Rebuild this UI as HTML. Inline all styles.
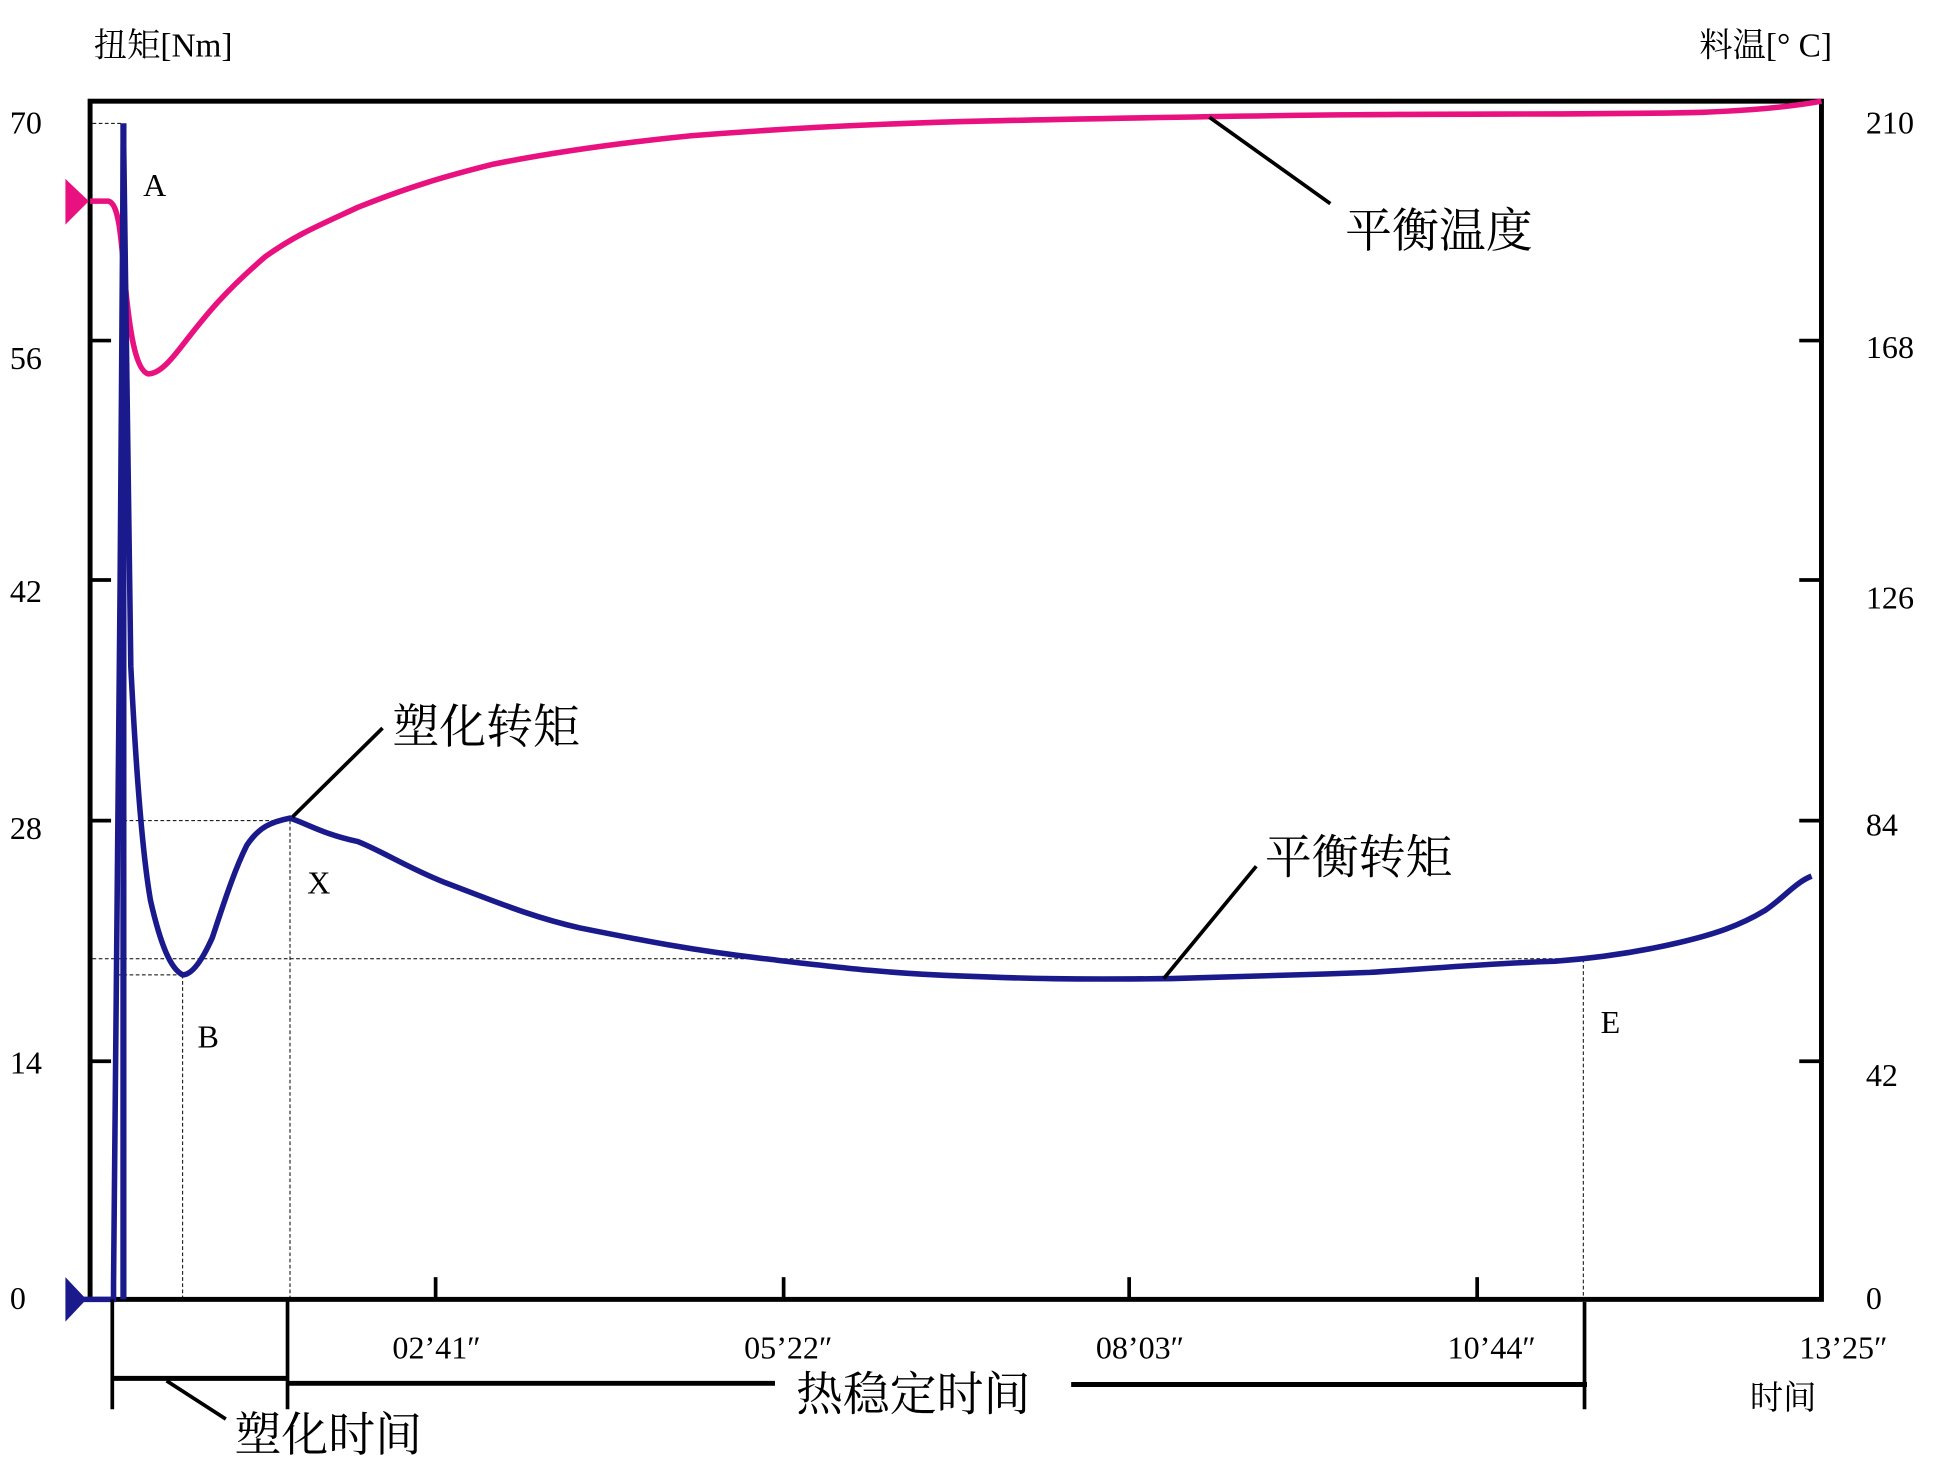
<!DOCTYPE html>
<html><head><meta charset="utf-8"><style>html,body{margin:0;padding:0;background:#fff}svg{display:block}</style></head><body>
<svg width="1935" height="1482" viewBox="0 0 1568 1201" preserveAspectRatio="none" xmlns="http://www.w3.org/2000/svg" font-family="'Liberation Serif','Noto Serif CJK SC',serif">
<rect width="1568" height="1201" fill="#fff"/>
<g stroke="#000" stroke-width="0.8" stroke-dasharray="3,2" fill="none">
<line x1="75" y1="100" x2="100" y2="100"/>
<line x1="102" y1="100" x2="102" y2="1053"/>
<line x1="100" y1="665" x2="235" y2="665"/>
<line x1="235" y1="665" x2="235" y2="1053"/>
<line x1="75" y1="777" x2="1290" y2="777"/>
<line x1="95" y1="790" x2="148" y2="790"/>
<line x1="148" y1="790" x2="148" y2="1053"/>
<line x1="1283" y1="777" x2="1283" y2="1053"/>
</g>
<rect x="73" y="82" width="1403" height="971" fill="none" stroke="#000" stroke-width="4"/>
<g stroke="#000" stroke-width="3">
<line x1="73" y1="276" x2="90" y2="276"/><line x1="73" y1="470" x2="90" y2="470"/><line x1="73" y1="665" x2="90" y2="665"/><line x1="73" y1="860" x2="90" y2="860"/>
<line x1="1458" y1="276" x2="1476" y2="276"/><line x1="1458" y1="470" x2="1476" y2="470"/><line x1="1458" y1="665" x2="1476" y2="665"/><line x1="1458" y1="860" x2="1476" y2="860"/>
<line x1="353" y1="1035" x2="353" y2="1053"/><line x1="635" y1="1035" x2="635" y2="1053"/><line x1="915" y1="1035" x2="915" y2="1053"/><line x1="1197" y1="1035" x2="1197" y2="1053"/>
</g>
<path d="M73,163 L88,163 C96,165 98,190 101,225 C105,270 110,300 120,303 C130,303 140,290 150,277 C165,258 180,238 215,208 C240,190 260,182 290,168 C330,152 360,143 400,133 C450,123 500,116 560,110 C650,103 720,100 800,98 C900,96 980,94 1100,93 C1200,92 1300,93 1380,91 C1430,89 1460,85 1476,82" fill="none" stroke="#e8117f" stroke-width="4.5"/>
<line x1="100" y1="100" x2="100" y2="1053" stroke="#1a1a8c" stroke-width="5"/>
<path d="M60,1053 L92,1053 L92,1040 C95,800 98,400 100,100 C102,300 104,450 106,540 C110,620 115,690 122,730 C130,765 138,785 148,790 C155,790 163,780 172,760 C182,730 190,705 200,685 C210,670 220,666 235,663 C250,668 262,676 290,682 C310,690 330,703 360,715 C400,730 430,743 470,752 C520,762 560,770 620,777 C680,784 720,789 780,791 C830,793 870,794 950,793 C1020,791 1060,790 1110,788 C1160,785 1200,781 1260,779 C1300,776 1330,771 1360,764 C1390,757 1410,750 1430,738 C1445,728 1455,715 1468,710" fill="none" stroke="#1a1a8c" stroke-width="4.5"/>
<polygon points="53,145 53,182 72,163" fill="#e8117f"/>
<polygon points="53,1035 53,1071 70,1053" fill="#1a1a8c"/>
<g font-size="26" fill="#000">
<text x="8" y="108">70</text><text x="8" y="299">56</text><text x="8" y="488">42</text><text x="8" y="680">28</text><text x="8" y="870">14</text><text x="8" y="1061">0</text>
<text x="1512" y="108">210</text><text x="1512" y="290">168</text><text x="1512" y="493">126</text><text x="1512" y="677">84</text><text x="1512" y="880">42</text><text x="1512" y="1061">0</text>
<text x="116" y="159">A</text><text x="160" y="849">B</text><text x="249" y="724">X</text><text x="1297" y="837">E</text>
<text x="318" y="1101">02’41″</text><text x="603" y="1101">05’22″</text><text x="888" y="1101">08’03″</text><text x="1173" y="1101">10’44″</text><text x="1458" y="1101">13’25″</text>
<text x="76" y="46" font-size="27">扭矩[Nm]</text>
<text x="1377" y="46" font-size="27">料温[° C]</text>
<text x="1418" y="1142" font-size="27">时间</text>
</g>
<g font-size="38" fill="#000">
<text x="1090" y="200">平衡温度</text>
<text x="318" y="602">塑化转矩</text>
<text x="1025" y="708">平衡转矩</text>
<text x="645" y="1143">热稳定时间</text>
<text x="190" y="1176">塑化时间</text>
</g>
<g stroke="#000" stroke-width="3" fill="none">
<line x1="980" y1="95" x2="1078" y2="165"/>
<line x1="237" y1="662" x2="310" y2="590"/>
<line x1="943" y1="793" x2="1018" y2="702"/>
<line x1="91" y1="1053" x2="91" y2="1142"/>
<line x1="233" y1="1053" x2="233" y2="1142"/>
<line x1="1284" y1="1055" x2="1284" y2="1142"/>
<line x1="91" y1="1117" x2="233" y2="1117" stroke-width="4"/>
<line x1="233" y1="1121" x2="628" y2="1121" stroke-width="4"/>
<line x1="868" y1="1122" x2="1286" y2="1122" stroke-width="4"/>
<line x1="135" y1="1119" x2="183" y2="1150"/>
</g>
</svg>
</body></html>
